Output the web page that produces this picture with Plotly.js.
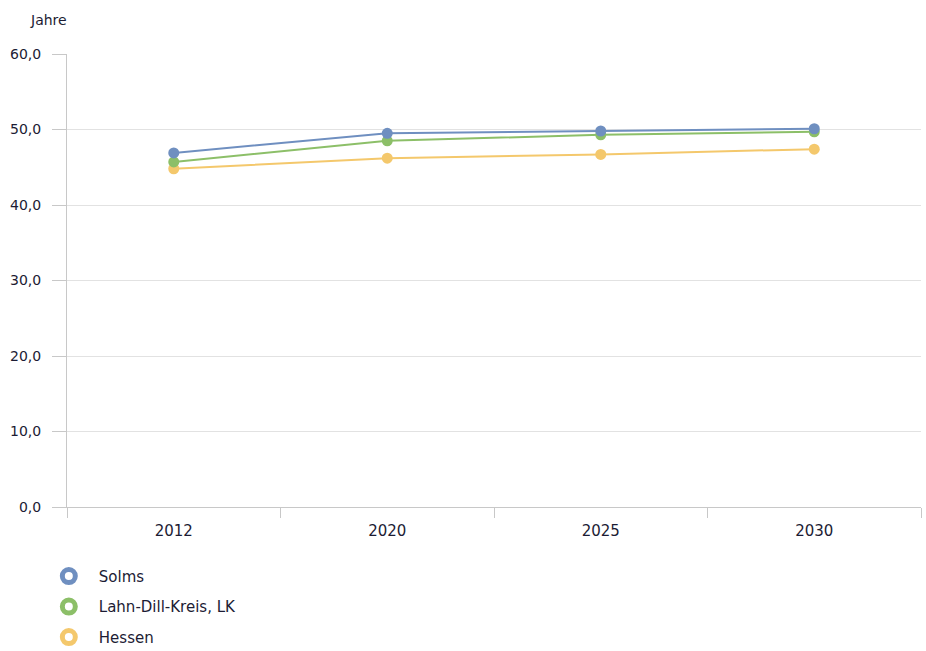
<!DOCTYPE html>
<html>
<head>
<meta charset="utf-8">
<script src="https://cdn.plot.ly/plotly-3.0.1.min.js"></script>
<style>html,body{margin:0;padding:0;background:#fff;}#chart{width:926px;height:651px;}</style>
</head>
<body>
<div id="chart"></div>
<script>
var years = ['2012', '2020', '2025', '2030'];
var solms = [46.9, 49.5, 49.8, 50.1];
var lahnDill = [45.7, 48.5, 49.3, 49.7];
var hessen = [44.8, 46.2, 46.7, 47.4];
var seriesNames = ['Solms', 'Lahn-Dill-Kreis, LK', 'Hessen'];
var seriesColors = ['#6f8fc0', '#8cbf68', '#f4c86c'];
var seriesValues = [solms, lahnDill, hessen];

var traces = [];
[2, 1, 0].forEach(function (i) {
  traces.push({
    x: years, y: seriesValues[i], type: 'scatter', mode: 'lines+markers',
    name: seriesNames[i], showlegend: false,
    line: {color: seriesColors[i], width: 2},
    marker: {color: seriesColors[i], size: 11},
    hoverinfo: 'x+y'
  });
});
[0, 1, 2].forEach(function (i) {
  traces.push({
    x: [null], y: [null], type: 'scatter', mode: 'markers',
    name: seriesNames[i], legendgroup: 'g' + i, showlegend: true,
    marker: {color: '#ffffff', size: 13, symbol: 'circle', line: {color: seriesColors[i], width: 5}}
  });
});

var fontFam = 'DejaVu Sans, Verdana, sans-serif';
var txtCol = '#1c1c34';

var layout = {
  width: 926, height: 651,
  margin: {l: 67, r: 5, t: 54, b: 144, autoexpand: false},
  paper_bgcolor: '#ffffff', plot_bgcolor: '#ffffff',
  font: {family: fontFam, size: 15, color: txtCol},
  separators: ',.',
  showlegend: true,
  legend: {xref: 'paper', yref: 'container', y: 0.14, yanchor: 'top', xanchor: 'left',
           x: -0.033, traceorder: 'grouped', tracegroupgap: 8, orientation: 'v',
           itemwidth: 50,
           font: {family: fontFam, size: 15, color: txtCol}, bgcolor: 'rgba(0,0,0,0)'},
  xaxis: {
    type: 'category', range: [-0.5, 3.5], tickson: 'boundaries',
    ticks: 'outside', ticklen: 10, tickcolor: '#c8c8c8', tickwidth: 1,
    ticklabelstandoff: 10,
    showline: true, linecolor: '#c8c8c8', linewidth: 1,
    showgrid: false, zeroline: false, fixedrange: true,
    tickfont: {family: fontFam, size: 15, color: txtCol}
  },
  yaxis: {
    range: [0, 60], tickvals: [0, 10, 20, 30, 40, 50, 60], tickformat: '.1f',
    ticks: 'outside', ticklen: 14, tickcolor: '#c8c8c8', tickwidth: 1,
    ticklabelstandoff: 8,
    showline: true, linecolor: '#c8c8c8', linewidth: 1,
    showgrid: true, gridcolor: '#e2e2e2', gridwidth: 1, zeroline: false,
    fixedrange: true, tickfont: {family: fontFam, size: 14, color: txtCol}
  },
  annotations: [{
    text: 'Jahre', xref: 'paper', yref: 'paper', x: -0.022, y: 1.052,
    xanchor: 'center', yanchor: 'bottom', showarrow: false,
    font: {family: fontFam, size: 14, color: txtCol}
  }]
};

Plotly.newPlot('chart', traces, layout, {displayModeBar: false, staticPlot: true});
</script>
</body>
</html>
